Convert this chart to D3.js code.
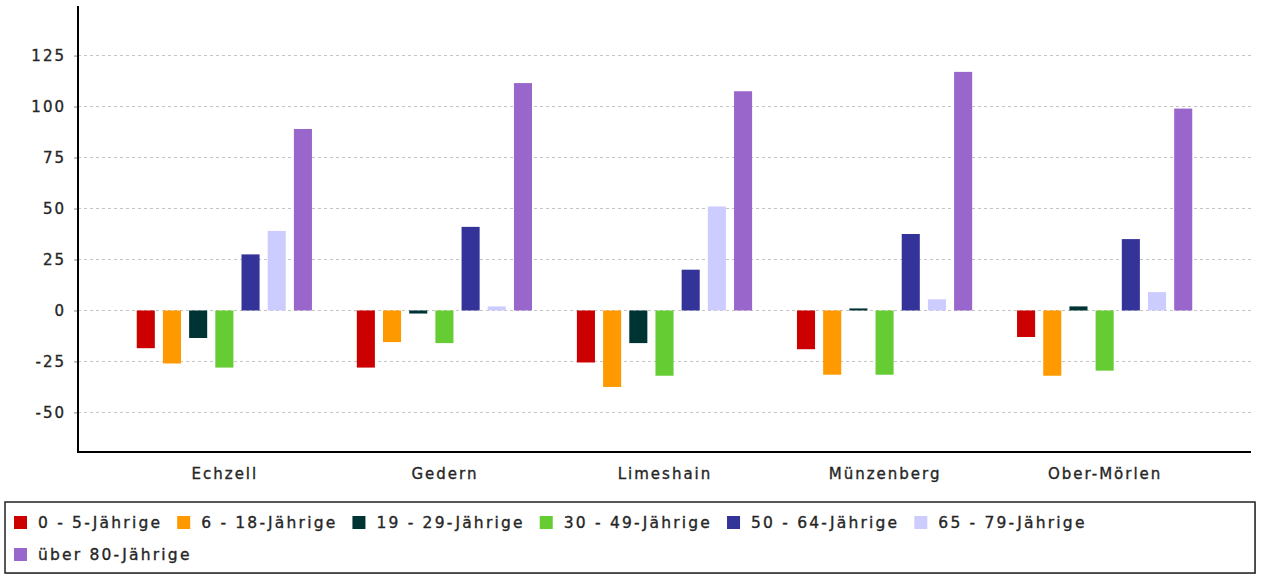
<!DOCTYPE html>
<html>
<head>
<meta charset="utf-8">
<script src="https://cdn.jsdelivr.net/npm/d3@7"></script>
<style>
html, body { margin: 0; padding: 0; background: #fff; }
svg { display: block; }
text { font-family: "DejaVu Sans", sans-serif; fill: #262626; stroke: #262626; stroke-width: 0.35px; }
</style>
</head>
<body>
<svg id="chart" width="1262" height="577"></svg>
<script>
const categories = ["Echzell", "Gedern", "Limeshain", "Münzenberg", "Ober-Mörlen"];
const seriesNames = ["0 - 5-Jährige", "6 - 18-Jährige", "19 - 29-Jährige", "30 - 49-Jährige", "50 - 64-Jährige", "65 - 79-Jährige", "über 80-Jährige"];
const seriesColors = ["#cc0000", "#ff9900", "#003333", "#66cc33", "#333399", "#ccccff", "#9966cc"];
const age0to5   = [-18.5, -28, -25.5, -19, -13];
const age6to18  = [-26, -15.5, -37.5, -31.5, -32];
const age19to29 = [-13.5, -1.5, -16, 1, 2];
const age30to49 = [-28, -16, -32, -31.5, -29.5];
const age50to64 = [27.5, 41, 20, 37.5, 35];
const age65to79 = [39, 2, 51, 5.5, 9];
const age80plus = [89, 111.5, 107.5, 117, 99];
const yTicks = [-50, -25, 0, 25, 50, 75, 100, 125];

const seriesValues = [age0to5, age6to18, age19to29, age30to49, age50to64, age65to79, age80plus];

const svg = d3.select("#chart");
const plotLeft = 78, plotRight = 1251, plotTop = 6, plotBottom = 452;

const y = d3.scaleLinear().domain([-69.4, 149.3]).range([plotBottom, plotTop]);
const x0 = d3.scalePoint().domain(categories).range([plotLeft, plotRight]).padding(0.665);
const x1 = d3.scaleBand().domain(seriesNames).range([-87.6, 87.6]).paddingInner(0.31).paddingOuter(0);

// grid lines
svg.append("g").selectAll("line").data(yTicks).join("line")
  .attr("x1", plotLeft).attr("x2", plotRight)
  .attr("y1", d => y(d)).attr("y2", d => y(d))
  .attr("stroke", "#c4c4c4").attr("stroke-width", 1)
  .attr("stroke-dasharray", "3,3");

// bars
const groups = svg.append("g").selectAll("g").data(categories).join("g")
  .attr("transform", c => `translate(${x0(c)},0)`);
groups.selectAll("rect")
  .data((c, ci) => seriesNames.map((s, si) => ({ s, si, v: seriesValues[si][ci] })))
  .join("rect")
  .attr("x", d => x1(d.s))
  .attr("width", x1.bandwidth())
  .attr("y", d => y(Math.max(0, d.v)))
  .attr("height", d => Math.abs(y(d.v) - y(0)))
  .attr("fill", d => seriesColors[d.si]);

const styleText = sel => sel
  .style("font-family", "DejaVu Sans, sans-serif")
  .style("font-size", "15px").style("letter-spacing", "2px")
  .attr("fill", "#262626").attr("stroke", "#262626").attr("stroke-width", 0.35);

// y axis
const yAxis = d3.axisLeft(y).tickValues(yTicks).tickSize(4).tickPadding(10)
  .tickFormat(d => String(d));
const gy = svg.append("g").attr("transform", `translate(${plotLeft},0)`).call(yAxis);
gy.select(".domain").remove();
gy.selectAll(".tick line").attr("stroke", "#888");
gy.selectAll(".tick text").call(styleText).attr("dx", "2px");
svg.append("line").attr("x1", plotLeft).attr("x2", plotLeft).attr("y1", plotTop).attr("y2", plotBottom + 1)
  .attr("stroke", "#000").attr("stroke-width", 2);

// x axis
const xAxis = d3.axisBottom(x0).tickSize(0).tickPadding(16);
const gx = svg.append("g").attr("transform", `translate(0,${plotBottom})`).call(xAxis);
gx.select(".domain").remove();
gx.selectAll(".tick text").call(styleText);
svg.append("line").attr("x1", plotLeft - 1).attr("x2", plotRight).attr("y1", plotBottom).attr("y2", plotBottom)
  .attr("stroke", "#000").attr("stroke-width", 2);

// legend
const legX = 5, legY = 502, legW = 1250, legH = 71;
svg.append("rect").attr("x", legX + 1).attr("y", legY + 1).attr("width", legW).attr("height", legH)
  .attr("fill", "#bbb");
svg.append("rect").attr("x", legX).attr("y", legY).attr("width", legW).attr("height", legH)
  .attr("fill", "#fff").attr("stroke", "#222").attr("stroke-width", 1.5);

const legend = svg.append("g");
let lx = legX + 9, row = 0;
const sq = 13, rowH = 32, textOff = 24, itemGap = 15;
seriesNames.forEach((name, i) => {
  const item = legend.append("g");
  const t = item.append("text")
    .attr("x", textOff).attr("y", 0)
    .call(styleText)
    .style("font-size", "15.5px").style("letter-spacing", "2.2px")
    .text(name);
  const w = textOff + t.node().getComputedTextLength() + itemGap;
  if (lx + w > legX + legW - 5) { lx = legX + 9; row++; }
  item.attr("transform", `translate(${lx},${legY + 26 + row * rowH})`);
  item.append("rect").attr("x", 0).attr("y", -12).attr("width", sq).attr("height", sq)
    .attr("fill", seriesColors[i]);
  lx += w;
});
</script>
</body>
</html>
